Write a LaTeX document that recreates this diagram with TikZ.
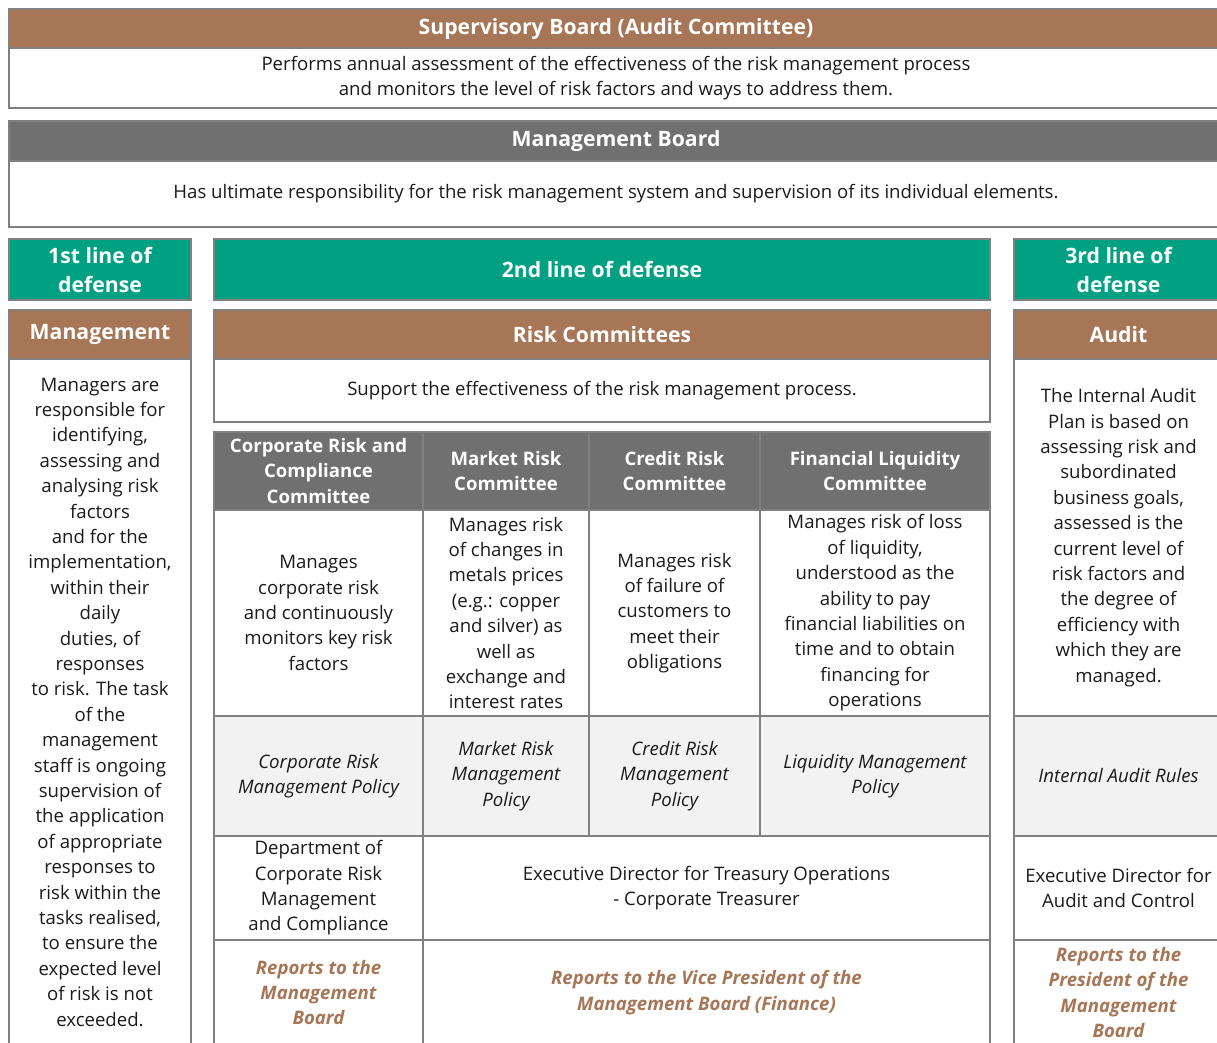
\documentclass[tikz,border=0pt]{standalone}
\usepackage{fontspec}
\setmainfont{Open Sans}
\usetikzlibrary{positioning}
\definecolor{brownhd}{RGB}{166,118,86}
\definecolor{grayhd}{RGB}{112,112,112}
\definecolor{greenhd}{RGB}{0,160,130}
\definecolor{rulegray}{RGB}{128,128,128}
\definecolor{policyfill}{RGB}{242,242,242}
\definecolor{bodytext}{RGB}{26,26,26}

\begin{document}
\begin{tikzpicture}[x=1pt,y=-1pt]
  \tikzstyle{cell}=[draw=rulegray,line width=2pt,anchor=north west,inner sep=0pt,align=center,text=bodytext,font=\fontsize{18.6}{25.4}\selectfont]
  \tikzstyle{headbar}=[cell,text=white,font=\fontsize{21.2}{29}\selectfont\bfseries]
  \tikzstyle{colhead}=[cell,fill=grayhd,text=white,font=\fontsize{18.6}{25.4}\selectfont\bfseries]
  \tikzstyle{policy}=[cell,fill=policyfill,font=\fontsize{18.6}{25.4}\selectfont\itshape]
  \tikzstyle{reports}=[cell,text=brownhd,font=\fontsize{18.6}{25.4}\selectfont\bfseries\itshape]
  \useasboundingbox (0,0) rectangle (1217,1042);
  \clip (0,0) rectangle (1217,1042);

  % supervisory and management boards
  \node[headbar,fill=brownhd,minimum width=1214pt,minimum height=39pt] (sup) at (8,8) {Supervisory Board (Audit Committee)};
  \node[cell,minimum width=1214pt,minimum height=60pt] (suptxt) at (8,47) {Performs annual assessment of the effectiveness of the risk management process\\and monitors the level of risk factors and ways to address them.};
  \node[headbar,fill=grayhd,minimum width=1214pt,minimum height=40pt] (board) at (8,120) {Management Board};
  \node[cell,minimum width=1214pt,minimum height=66pt] (boardtxt) at (8,160) {Has ultimate responsibility for the risk management system and supervision of its individual elements.};

  % lines of defense
  \node[headbar,fill=greenhd,minimum width=182pt,minimum height=61pt] (line1) at (8,238) {1st line of\\defense};
  \node[headbar,fill=greenhd,minimum width=776pt,minimum height=61pt] (line2) at (213,238) {2nd line of defense};
  \node[headbar,fill=greenhd,minimum width=209pt,minimum height=61pt] (line3) at (1013,238) {3rd line of\\defense};
  \node[headbar,fill=brownhd,minimum width=182pt,minimum height=49pt] (mgr) at (8,309) {Management};
  \node[headbar,fill=brownhd,minimum width=776pt,minimum height=49pt] (riskc) at (213,309) {Risk Committees};
  \node[headbar,fill=brownhd,minimum width=209pt,minimum height=49pt] (audit) at (1013,309) {Audit};

  % first line
  \node[cell,minimum width=182pt,minimum height=686pt] (mgrtxt) at (8,358) {Managers are\\responsible for\\identifying,\\assessing and\\analysing risk\\factors\\and for the\\implementation,\\within their\\daily\\duties, of\\responses\\to risk. The task\\of the\\management\\staff is ongoing\\supervision of\\the application\\of appropriate\\responses to\\risk within the\\tasks realised,\\to ensure the\\expected level\\of risk is not\\exceeded.};

  % second line
  \node[cell,minimum width=776pt,minimum height=63pt] (risktxt) at (213,358) {Support the effectiveness of the risk management process.};
  \node[colhead,minimum width=209pt,minimum height=78pt] (corph) at (213,431) {Corporate Risk and\\Compliance\\Committee};
  \node[colhead,minimum width=166pt,minimum height=78pt] (markh) at (422,431) {Market Risk\\Committee};
  \node[colhead,minimum width=171pt,minimum height=78pt] (credh) at (588,431) {Credit Risk\\Committee};
  \node[colhead,minimum width=230pt,minimum height=78pt] (liqh) at (759,431) {Financial Liquidity\\Committee};
  \node[cell,minimum width=209pt,minimum height=206pt] (corpd) at (213,509) {Manages\\corporate risk\\and continuously\\monitors key risk\\factors};
  \node[cell,minimum width=166pt,minimum height=206pt] (markd) at (422,509) {Manages risk\\of changes in\\metals prices\\(e.g.: copper\\and silver) as\\well as\\exchange and\\interest rates};
  \node[cell,minimum width=171pt,minimum height=206pt] (credd) at (588,509) {Manages risk\\of failure of\\customers to\\meet their\\obligations};
  \node[cell,minimum width=230pt,minimum height=206pt] (liqd) at (759,509) {Manages risk of loss\\of liquidity,\\understood as the\\ability to pay\\financial liabilities on\\time and to obtain\\financing for\\operations};
  \node[policy,minimum width=209pt,minimum height=120pt] (corpp) at (213,715) {Corporate Risk\\Management Policy};
  \node[policy,minimum width=166pt,minimum height=120pt] (markp) at (422,715) {Market Risk\\Management\\Policy};
  \node[policy,minimum width=171pt,minimum height=120pt] (credp) at (588,715) {Credit Risk\\Management\\Policy};
  \node[policy,minimum width=230pt,minimum height=120pt] (liqp) at (759,715) {Liquidity Management\\Policy};
  \node[cell,minimum width=209pt,minimum height=104pt] (corpo) at (213,835) {Department of\\Corporate Risk\\Management\\and Compliance};
  \node[cell,minimum width=567pt,minimum height=104pt] (treas) at (422,835) {Executive Director for Treasury Operations\\- Corporate Treasurer};
  \node[reports,minimum width=209pt,minimum height=105pt] (corpr) at (213,939) {Reports to the\\Management\\Board};
  \node[reports,minimum width=567pt,minimum height=105pt] (treasr) at (422,939) {Reports to the Vice President of the\\Management Board (Finance)};

  % third line
  \node[cell,minimum width=209pt,minimum height=357pt] (audittxt) at (1013,358) {The Internal Audit\\Plan is based on\\assessing risk and\\subordinated\\business goals,\\assessed is the\\current level of\\risk factors and\\the degree of\\efficiency with\\which they are\\managed.};
  \node[policy,minimum width=209pt,minimum height=120pt] (auditp) at (1013,715) {Internal Audit Rules};
  \node[cell,minimum width=209pt,minimum height=104pt] (audito) at (1013,835) {Executive Director for\\Audit and Control};
  \node[reports,minimum width=209pt,minimum height=105pt] (auditr) at (1013,939) {Reports to the\\President of the\\Management\\Board};
\end{tikzpicture}
\end{document}
